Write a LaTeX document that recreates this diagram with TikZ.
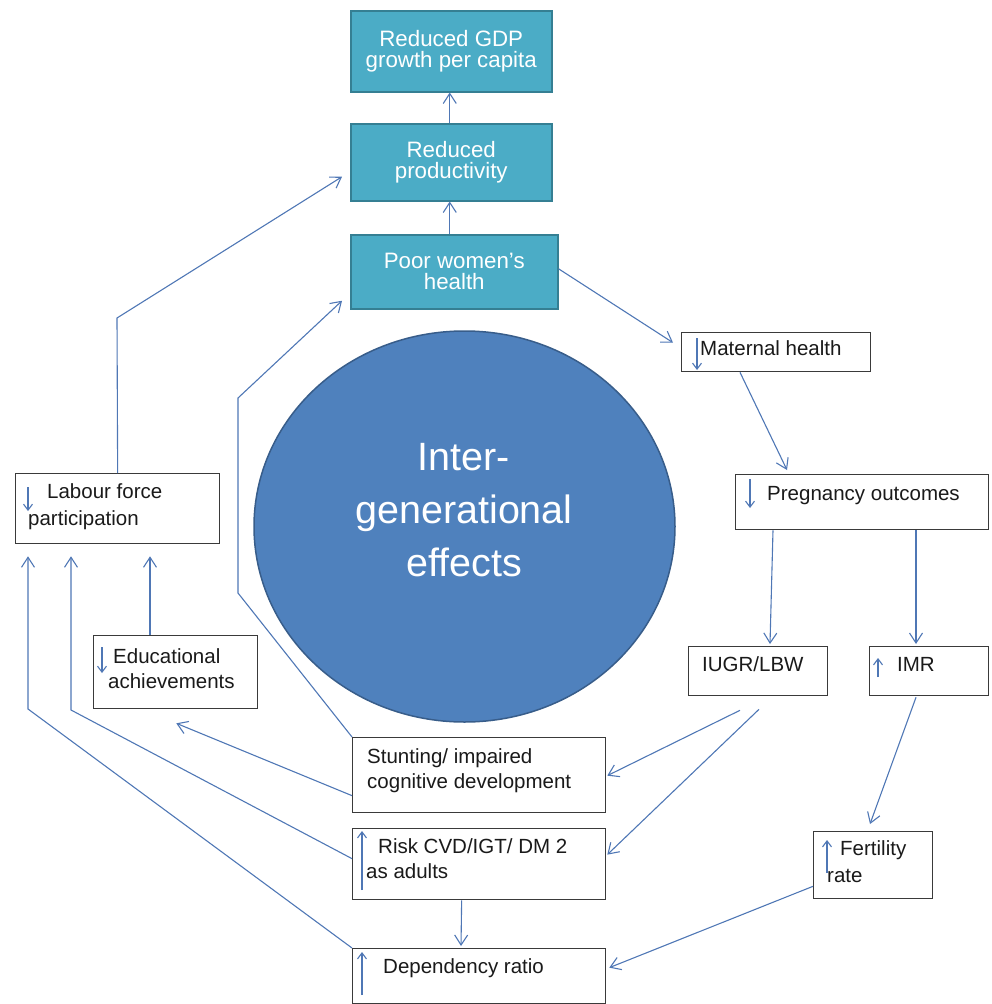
\documentclass[tikz,border=0pt]{standalone}
\usepackage{fontspec}
\setmainfont{Liberation Sans}
\usetikzlibrary{arrows.meta,shapes.geometric,calc}
\definecolor{tealfill}{HTML}{4BACC6}
\definecolor{tealdraw}{HTML}{357F93}
\definecolor{circfill}{HTML}{4F81BD}
\definecolor{circdraw}{HTML}{385D8A}
\definecolor{linec}{HTML}{4F77B5}
\definecolor{boxc}{HTML}{3A3A3A}
\definecolor{textc}{HTML}{1A1A1A}
\begin{document}
\begin{tikzpicture}[x=1pt,y=-1pt,
  tealbox/.style={rectangle, draw=tealdraw, line width=1.5pt, fill=tealfill, text=white, align=center, inner sep=0pt, anchor=north west, font=\fontsize{22.3}{21}\selectfont},
  wbox/.style={rectangle, draw=boxc, line width=1.3pt, fill=white, inner sep=0pt, anchor=north west},
  txt/.style={anchor=base west, inner sep=0pt, text=textc, font=\fontsize{20.5}{24}\selectfont},
  conn/.style={draw=linec, line width=1.1pt, -{Straight Barb[length=10pt,width=13pt]}},
  tickarr/.style={draw=linec, line width=1.1pt, -{Straight Barb[length=6pt,width=9pt]}}
]
\useasboundingbox (0,0) rectangle (991,1004);

% teal boxes
\node[tealbox, minimum width=201pt, minimum height=81pt] (gdp) at (350,10) {Reduced GDP\\growth per capita};
\node[tealbox, minimum width=201pt, minimum height=77pt] (prod) at (350,123) {Reduced\\productivity};
\node[tealbox, minimum width=207pt, minimum height=74pt] (poor) at (350,234) {Poor women’s\\health};

% central circle
\node[ellipse, draw=circdraw, line width=1.5pt, fill=circfill, minimum width=421pt, minimum height=391pt, inner sep=0pt] (circ) at (464.5,526.5) {};
\node[anchor=north, inner sep=0pt, text=white, align=center, font=\fontsize{39.5}{53}\selectfont] (circt) at (464,443.5) {Inter-\\generational\\effects};

% white boxes
\node[wbox, minimum width=204pt, minimum height=70pt] (lab) at (15,473) {};
\node[txt] (labt1) at (47,498) {Labour force};
\node[txt] (labt2) at (28,525) {participation};

\node[wbox, minimum width=164pt, minimum height=73pt] (edu) at (93,635) {};
\node[txt] (edut1) at (113,663) {Educational};
\node[txt] (edut2) at (108,688) {achievements};

\node[wbox, minimum width=189pt, minimum height=39pt] (mat) at (681,332) {};
\node[txt] (matt) at (700,355) {Maternal health};

\node[wbox, minimum width=253pt, minimum height=55pt] (preg) at (735,474) {};
\node[txt] (pregt) at (767,500) {Pregnancy outcomes};

\node[wbox, minimum width=139pt, minimum height=49pt] (iugr) at (688,646) {};
\node[txt] (iugrt) at (702,671) {IUGR/LBW};

\node[wbox, minimum width=119pt, minimum height=49pt] (imr) at (869,646) {};
\node[txt] (imrt) at (897,671) {IMR};

\node[wbox, minimum width=253pt, minimum height=75pt] (stu) at (352,737) {};
\node[txt] (stut1) at (367,763) {Stunting/ impaired};
\node[txt] (stut2) at (367,788) {cognitive development};

\node[wbox, minimum width=253pt, minimum height=71pt] (risk) at (352,828) {};
\node[txt] (riskt1) at (378,853) {Risk CVD/IGT/ DM 2};
\node[txt] (riskt2) at (366,878) {as adults};

\node[wbox, minimum width=253pt, minimum height=55pt] (dep) at (352,948) {};
\node[txt] (dept) at (383,973) {Dependency ratio};

\node[wbox, minimum width=119pt, minimum height=67pt] (fer) at (813,831) {};
\node[txt] (fert1) at (840,855) {Fertility};
\node[txt] (fert2) at (827,882) {rate};

% small arrows inside boxes
\draw[tickarr] ($(lab.north west)+(13,14)$) -- ($(lab.north west)+(13,38)$);
\draw[tickarr] ($(edu.north west)+(9,12)$) -- ($(edu.north west)+(9,38)$);
\draw[tickarr] ($(mat.north west)+(16,6)$) -- ($(mat.north west)+(16,38)$);
\draw[tickarr] ($(preg.north west)+(15,5)$) -- ($(preg.north west)+(15,34)$);
\draw[tickarr] ($(imr.north west)+(9,31)$) -- ($(imr.north west)+(9,12)$);
\draw[tickarr] ($(risk.north west)+(10,62)$) -- ($(risk.north west)+(10,3)$);
\draw[tickarr] ($(dep.north west)+(10,47)$) -- ($(dep.north west)+(10,4)$);
\draw[tickarr] ($(fer.north west)+(14,42)$) -- ($(fer.north west)+(14,9)$);

% connectors
\draw[conn] ($(prod.north)+(-1.5,0)$) -- ($(gdp.south)+(-1.5,0)$);
\draw[conn] ($(poor.north)+(-4.5,0)$) -- ($(prod.south)+(-1.5,0)$);
\coordinate (labbend) at (117,318);
\draw[conn] (lab.north) -- (labbend) -- ($(prod.west)+(-8,14.5)$);
\coordinate (stubend1) at (238,593);
\coordinate (stubend2) at (238,398);
\draw[conn] (stu.north west) -- (stubend1) -- (stubend2) -- ($(poor.west)+(-8,29)$);
\draw[conn] ($(poor.east)+(0,-3)$) -- ($(mat.west)+(-8,-9.5)$);
\draw[conn] ($(mat.south west)+(59,0)$) -- ($(preg.north west)+(52,-4)$);
\draw[conn] ($(preg.south west)+(38,0)$) -- ($(iugr.north west)+(82,-2)$);
\draw[conn] ($(preg.south west)+(181,0)$) -- ($(imr.north west)+(47,-2)$);
\draw[conn] ($(imr.south west)+(47,1)$) -- ($(fer.north west)+(57,-7)$);
\draw[conn] ($(iugr.south west)+(52,14)$) -- ($(stu.east)+(1,0.5)$);
\draw[conn] ($(iugr.south west)+(71,13)$) -- ($(risk.east)+(1,-9.5)$);
\draw[conn] ($(fer.south west)+(0,-13)$) -- ($(dep.east)+(3,-8.5)$);
\draw[conn] ($(risk.south)+(-17.5,0)$) -- ($(dep.north west)+(109,-2)$);
\draw[conn] ($(stu.west)+(0,20.5)$) -- ($(edu.south east)+(-82,14)$);
\coordinate (riskbend) at (71,710);
\draw[conn] ($(risk.west)+(0,-5.5)$) -- (riskbend) -- ($(lab.south west)+(56,12)$);
\coordinate (depbend) at (28,709);
\draw[conn] (dep.north west) -- (depbend) -- ($(lab.south west)+(13,12)$);
\draw[conn] ($(edu.north west)+(57,0)$) -- ($(lab.south west)+(135,12)$);
\end{tikzpicture}
\end{document}
